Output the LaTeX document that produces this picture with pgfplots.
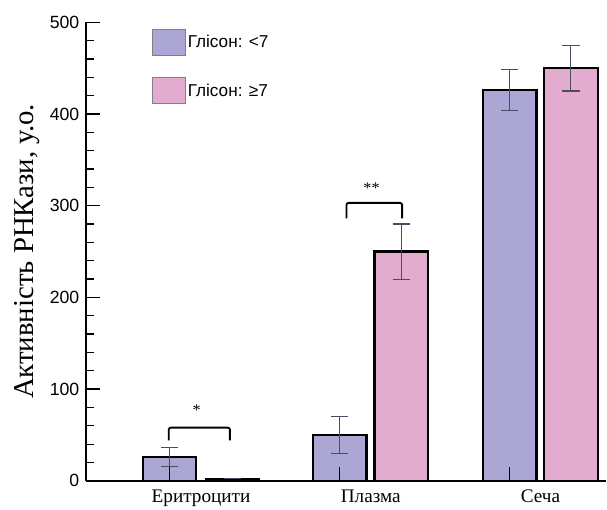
\documentclass[border=0pt]{standalone}
\usepackage{pgfplots}
\pgfplotsset{compat=1.18}
\usepackage{fontspec}
\setmainfont{Liberation Serif}
\newfontfamily\sansf{Liberation Sans}
\definecolor{cblue}{RGB}{172,166,212}
\definecolor{cpink}{RGB}{226,172,206}
\definecolor{errc}{RGB}{75,75,100}
\begin{document}
\begin{tikzpicture}
\begin{axis}[
 scale only axis, width=515pt, height=454pt,
 xmin=0.3214, xmax=3.387, ymin=0, ymax=500,
 axis x line=bottom, axis y line=left,
 axis line style={-, line width=1.8pt},
 ytick={0,100,...,500}, minor y tick num=4,
 tick align=inside, major tick length=14pt, minor tick length=8pt,
 every tick/.style={black, line width=1.2pt},
 yticklabel style={font=\sansf\fontsize{17.5}{17.5}\selectfont, xshift=-3pt},
 /pgf/number format/assume math mode=true,
 xtick={0.815,1.818,2.82}, xticklabels={},
 extra x ticks={1,2,3}, extra x tick labels={Еритроцити,Плазма,Сеча},
 extra x tick style={major tick length=0pt},
 xticklabel style={font=\fontsize{19}{19}\selectfont, text height=13pt, text depth=4pt, yshift=-5pt},
 ylabel={Активність РНКази, у.о.},
 ylabel style={font=\fontsize{28.5}{28.5}\selectfont, at={(axis description cs:0,0.5)}, anchor=base, yshift=51.5pt},
 axis on top,
 legend style={at={(rel axis cs:0.126,0.986)}, anchor=north west, draw=none, fill=none,
   font=\sansf\fontsize{17}{17}\selectfont, row sep=21pt, inner sep=0pt},
 legend cell align=left,
 legend image code/.code={\draw[#1, draw=gray, line width=0.8pt] (0pt,-13pt) rectangle (33pt,13pt);},
]
\addplot[ybar, bar width=0.315, bar shift=0pt, fill=cblue, draw=black, line width=2.2pt,
  error bars/.cd, y dir=both, y explicit, error mark=|,
  error bar style={errc, line width=1pt},
  error mark options={errc, line width=1pt, mark size=8.5pt}]
  coordinates {(0.815,26) +- (0,10) (1.818,50) +- (0,20) (2.82,426) +- (0,22)};
\addlegendentry{Глісон: <7}
\addplot[ybar, bar width=0.315, bar shift=0pt, fill=cpink, draw=black, line width=2.2pt,
  error bars/.cd, y dir=both, y explicit, error mark=|,
  error bar style={errc, line width=1pt},
  error mark options={errc, line width=1pt, mark size=8.5pt}]
  coordinates {(1.185,2) +- (0,0) (2.18,250) +- (0,30) (3.18,450) +- (0,25)};
\addlegendentry{Глісон: ≥7}
\addplot[black, line width=1.8pt, rounded corners=2pt, forget plot]
  coordinates {(0.81,44) (0.81,58) (1.17,58) (1.17,44)};
\addplot[black, line width=1.8pt, rounded corners=2pt, forget plot]
  coordinates {(1.857,286) (1.857,303) (2.185,303) (2.185,286)};
\node[font=\fontsize{16}{16}\selectfont] at (axis cs:0.975,77) {*};
\node[font=\fontsize{16}{16}\selectfont] at (axis cs:2.005,319) {**};
\path (rel axis cs:1,0) ++(7pt,0) coordinate (rr);
\path (rel axis cs:0,1) ++(-85pt,22pt) coordinate (ll);
\end{axis}
\path (rr) -- (ll);
\end{tikzpicture}
\end{document}
